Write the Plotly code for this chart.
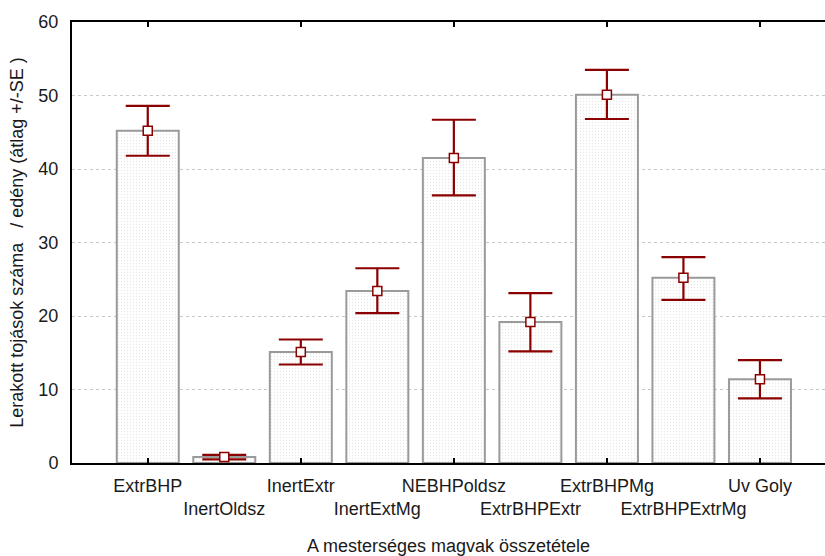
import plotly.graph_objects as go

# Egg counts per pot for the artificial seed compositions (mean, +SE, -SE bounds)
categories = ["ExtrBHP", "InertOldsz", "InertExtr", "InertExtMg", "NEBHPoldsz",
              "ExtrBHPExtr", "ExtrBHPMg", "ExtrBHPExtrMg", "Uv Goly"]
means = [45.2, 0.8, 15.1, 23.4, 41.5, 19.2, 50.1, 25.2, 11.4]
upper = [48.6, 1.1, 16.8, 26.5, 46.7, 23.1, 53.5, 28.0, 14.0]
lower = [41.8, 0.5, 13.4, 20.4, 36.4, 15.2, 46.8, 22.2, 8.8]
y_ticks = [0, 10, 20, 30, 40, 50, 60]

pos = list(range(len(categories)))
err_plus = [u - m for u, m in zip(upper, means)]
err_minus = [m - l for m, l in zip(means, lower)]

RED = "#8b0000"
FONT = "Liberation Sans, Arial, sans-serif"

fig = go.Figure()

fig.add_trace(go.Bar(
    x=pos, y=means,
    marker=dict(
        color="white",
        line=dict(color="#9a9a9a", width=2),
        pattern=dict(shape=".", size=3, solidity=0.15, fgcolor="#d0d0d0", bgcolor="white"),
    ),
    showlegend=False, hoverinfo="skip",
))

fig.add_trace(go.Scatter(
    x=pos, y=means, mode="markers",
    marker=dict(symbol="square", size=9, color="white", line=dict(color=RED, width=1.5)),
    error_y=dict(type="data", symmetric=False, array=err_plus, arrayminus=err_minus,
                 color=RED, thickness=2.2, width=22),
    showlegend=False,
))

# second row of staggered category labels
fig.add_trace(go.Scatter(x=[pos[1]], y=[None], xaxis="x2", yaxis="y",
                         mode="markers", showlegend=False, hoverinfo="skip"))

fig.update_layout(
    width=825, height=556,
    margin=dict(l=72, r=0, t=22, b=93),
    paper_bgcolor="white", plot_bgcolor="white",
    font=dict(family=FONT, size=18, color="#1a1a1a"),
    bargap=0.19,
    xaxis=dict(
        range=[-0.99, 8.85],
        tickmode="array",
        tickvals=pos[0::2], ticktext=categories[0::2],
        ticks="inside", ticklen=5, tickwidth=1.5, tickcolor="black",
        showline=True, linecolor="black", linewidth=2, mirror="ticks",
        showgrid=False, zeroline=False, automargin=False,
        tickfont=dict(size=18),
        ticklabelstandoff=5,
    ),
    xaxis2=dict(
        overlaying="x", matches="x", anchor="y", side="bottom",
        tickmode="array",
        tickvals=pos[1::2], ticktext=categories[1::2],
        ticks="", showline=False, showgrid=False, zeroline=False, automargin=False,
        tickfont=dict(size=18),
        ticklabelstandoff=33,
        title=dict(text="A mesterséges magvak összetétele", font=dict(size=18), standoff=26),
    ),
    yaxis=dict(
        range=[0, 60],
        tickmode="array", tickvals=y_ticks,
        ticks="", showline=True, linecolor="black", linewidth=2,
        showgrid=True, gridcolor="#c8c8c8", griddash="dot", gridwidth=1,
        zeroline=False, automargin=False,
        tickfont=dict(size=18),
        ticklabelstandoff=8,
        title=dict(text="Lerakott tojások száma   / edény (átlag +/-SE )",
                   font=dict(size=18), standoff=10),
    ),
)

fig.write_html("out.html")
